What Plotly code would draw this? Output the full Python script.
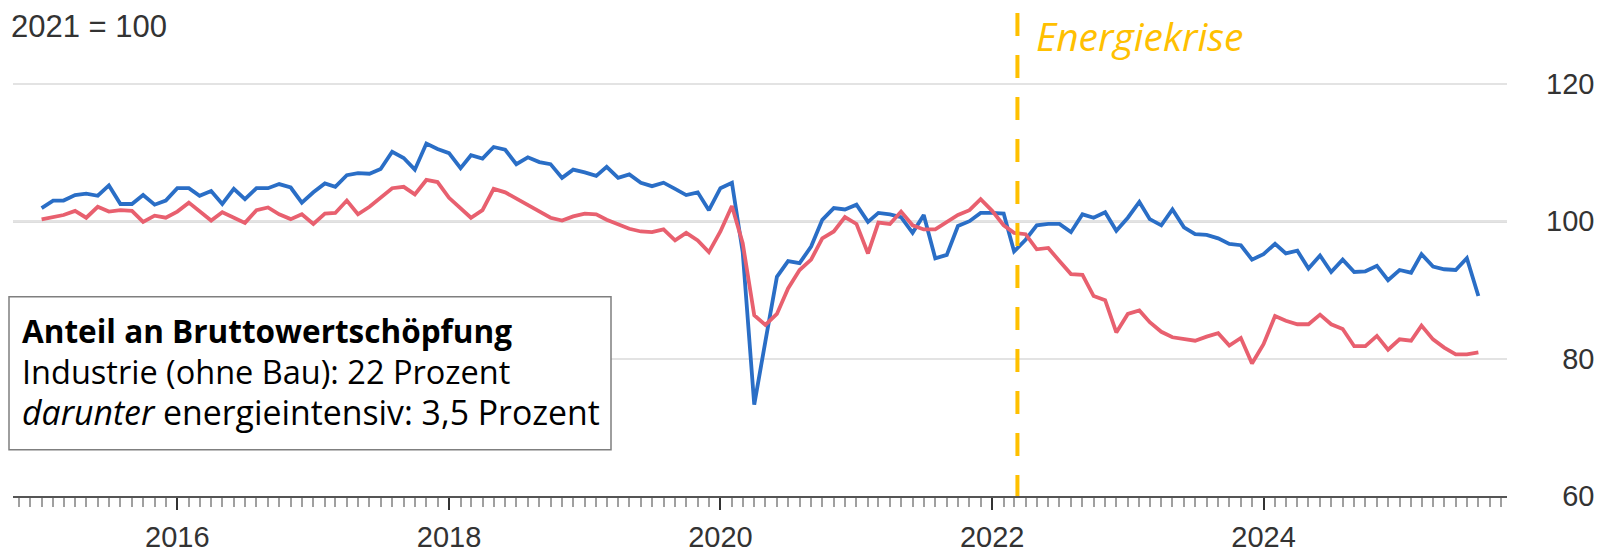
import plotly.graph_objects as go
import pandas as pd

months = pd.date_range("2015-01-01", periods=128, freq="MS")

industrie = [
    101.9, 103.0, 103.0, 103.8, 104.0, 103.7, 105.2, 102.5, 102.5, 103.8, 102.4, 103.0,
    104.8, 104.8, 103.7, 104.4, 102.5, 104.7, 103.2, 104.8, 104.8, 105.4, 104.9, 102.7,
    104.2, 105.5, 105.0, 106.7, 107.0, 106.9, 107.6, 110.1, 109.2, 107.5, 111.3, 110.5,
    109.9, 107.7, 109.6, 109.1, 110.8, 110.4, 108.3, 109.3, 108.6, 108.3, 106.3, 107.5,
    107.1, 106.6, 107.9, 106.3, 106.8, 105.6, 105.1, 105.6, 104.7, 103.8, 104.2, 101.6,
    104.8, 105.6, 95.5, 73.3, 82.5, 91.9, 94.2, 93.9, 96.3, 100.2, 101.9, 101.7,
    102.4, 99.9, 101.2, 101.0, 100.6, 98.3, 100.9, 94.6, 95.1, 99.3, 100.0, 101.2,
    101.2, 101.1, 95.6, 97.3, 99.4, 99.6, 99.6, 98.4, 101.0, 100.5, 101.3, 98.6,
    100.5, 102.8, 100.3, 99.4, 101.7, 99.1, 98.1, 98.0, 97.5, 96.7, 96.5, 94.4,
    95.2, 96.7, 95.3, 95.7, 93.1, 95.0, 92.6, 94.4, 92.6, 92.7, 93.5, 91.4,
    92.9, 92.5, 95.2, 93.4, 93.0, 92.9, 94.6, 89.1,
]

energieintensiv = [
    100.25, 100.6, 100.9, 101.5, 100.5, 102.1, 101.4, 101.6, 101.5, 99.9, 100.8, 100.5,
    101.4, 102.7, 101.5, 100.1, 101.3, 100.5, 99.75, 101.6, 102.0, 101.0, 100.3, 101.0,
    99.6, 101.1, 101.2, 103.0, 101.0, 102.1, 103.4, 104.8, 105.0, 103.9, 106.0, 105.7,
    103.4, 101.9, 100.5, 101.6, 104.7, 104.2, 103.3, 102.4, 101.5, 100.5, 100.1, 100.7,
    101.1, 101.0, 100.2, 99.5, 98.9, 98.5, 98.4, 98.8, 97.2, 98.3, 97.2, 95.5,
    98.5, 102.2, 96.8, 86.3, 84.9, 86.5, 90.2, 92.9, 94.4, 97.5, 98.5, 100.6,
    99.6, 95.3, 99.8, 99.6, 101.4, 99.4, 98.8, 98.8, 99.9, 100.9, 101.6, 103.2,
    101.5, 99.4, 98.3, 98.1, 95.9, 96.1, 94.2, 92.3, 92.2, 89.1, 88.5, 83.8,
    86.5, 87.0, 85.3, 83.9, 83.1, 82.8, 82.6, 83.2, 83.7, 81.9, 83.0, 79.3,
    82.1, 86.2, 85.5, 85.0, 85.0, 86.4, 85.0, 84.3, 81.8, 81.8, 83.3, 81.3,
    82.8, 82.6, 84.8, 82.8, 81.6, 80.6, 80.6, 80.9,
]

y_tickvals = [60, 80, 100, 120]
y_ticktext = ["\u200760", "\u200780", "100", "120"]
crisis_date = "2022-03-10"
crisis_label = "Energiekrise"
unit_label = "2021 = 100"
box_title = "Anteil an Bruttowertschöpfung"
box_line_1 = "Industrie (ohne Bau): 22 Prozent"
box_line_2_italic = "darunter"
box_line_2 = " energieintensiv: 3,5 Prozent"

# page pixel layout (horizontal page offset of the body margin compensated)
OFFX, OFFY = 8, 0
W, H = 1604 - OFFX, 550
L, R = 13 - OFFX, W - (1507 - OFFX)
T, B = 5, H - 497
pw, ph = W - L - R, H - T - B

def px_x(x):
    return (x - OFFX - L) / pw

def px_y(y):
    return (H - B - (y - OFFY)) / ph

fig = go.Figure()
fig.add_trace(go.Scatter(x=months, y=industrie, mode="lines",
                         line=dict(color="#2A6EC6", width=3.8), name="Industrie"))
fig.add_trace(go.Scatter(x=months, y=energieintensiv, mode="lines",
                         line=dict(color="#E8606F", width=3.8), name="energieintensiv"))

shapes = [
    dict(type="line", xref="paper", x0=0, x1=1, yref="y", y0=100, y1=100,
         line=dict(color="#BDBDBD", width=2.5), layer="below"),
    dict(type="line", xref="x", x0=crisis_date, x1=crisis_date, yref="paper", y0=1, y1=0,
         line=dict(color="#FFC000", width=4, dash="23px,19px"), layer="above"),
    dict(type="rect", xref="paper", yref="paper",
         x0=px_x(9), x1=px_x(611), y0=px_y(450), y1=px_y(294),
         line=dict(color="#7F7F7F", width=1.5), fillcolor="white", layer="above"),
]

box_text = (
    "<b>" + box_title + "</b><br>"
    + "<span style='font-size:32.5px'>" + box_line_1 + "</span><br>"
    + "<span style='font-size:33.8px'><i>" + box_line_2_italic + "</i>" + box_line_2 + "</span>"
)

annotations = [
    dict(text=unit_label, xref="paper", yref="paper", x=px_x(10), y=px_y(0),
         xanchor="left", yanchor="top", showarrow=False, borderpad=0,
         font=dict(family="Liberation Sans, Arial", size=31, color="#333333")),
    dict(text="<i>" + crisis_label + "</i>", xref="x", yref="paper", x=crisis_date, y=px_y(0),
         xanchor="left", yanchor="top", xshift=18, showarrow=False, borderpad=0,
         font=dict(family="Open Sans", size=39, color="#FFC000")),
    dict(text=box_text, xref="paper", yref="paper", x=px_x(20), y=px_y(371),
         xanchor="left", yanchor="middle", align="left", showarrow=False,
         font=dict(family="Open Sans", size=31.5, color="#000000")),
]

fig.update_layout(
    width=W, height=H,
    margin=dict(l=L, r=R, t=T, b=B, pad=0),
    paper_bgcolor="white", plot_bgcolor="white",
    showlegend=False,
    shapes=shapes, annotations=annotations,
    xaxis=dict(
        type="date", range=["2014-10-16", "2025-10-17"],
        tick0="2016-01-01", dtick="M24", tickformat="%Y",
        ticks="outside", ticklen=12, tickwidth=2, tickcolor="#333333",
        showline=True, linecolor="#555555", linewidth=2,
        showgrid=False, zeroline=False,
        ticklabelstandoff=2,
        tickfont=dict(family="Liberation Sans, Arial", size=29, color="#333333"),
        minor=dict(dtick="M1", ticks="outside", ticklen=9, tickwidth=1.5,
                   tickcolor="#A0A0A0", showgrid=False),
    ),
    yaxis=dict(
        side="right", range=[60, 130.3],
        tickvals=y_tickvals, ticktext=y_ticktext,
        showgrid=True, gridcolor="#E3E3E3", gridwidth=2,
        zeroline=False, showline=False, ticks="",
        ticklabelstandoff=38,
        tickfont=dict(family="Liberation Sans, Arial", size=29, color="#333333"),
    ),
)

fig.write_html("out.html")
